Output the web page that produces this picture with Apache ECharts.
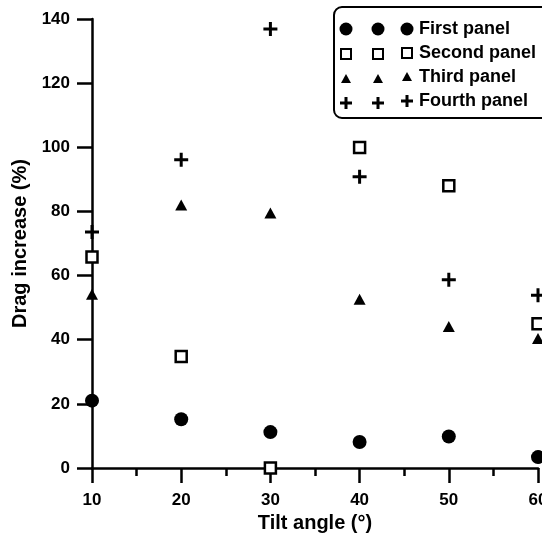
<!DOCTYPE html>
<html>
<head>
<meta charset="utf-8">
<title>Drag increase vs tilt angle</title>
<script src="https://cdn.jsdelivr.net/npm/echarts@6/dist/echarts.min.js"></script>
<style>
  html, body { margin: 0; padding: 0; background: #fff; }
  #chart { width: 542px; height: 537px; }
</style>
</head>
<body>
<div id="chart"></div>
<script>
// data
const tiltAngles = [10, 20, 30, 40, 50, 60];
const seriesNames = ['First panel', 'Second panel', 'Third panel', 'Fourth panel'];
const firstPanel = [21, 15.2, 11.2, 8.1, 9.8, 3.4];
const secondPanel = [65.8, 34.8, 0, 99.9, 88, 45];
const thirdPanel = [54.2, 82, 79.5, 52.6, 44.1, 40.4];
const fourthPanel = [73.6, 96.1, 136.9, 90.8, 58.7, 53.9];
const yTicks = [0, 20, 40, 60, 80, 100, 120, 140];

const FONT = '"Liberation Sans", Arial, sans-serif';
const plusPath = 'path://M5.5,0H8.5V5.5H14V8.5H8.5V14H5.5V8.5H0V5.5H5.5Z';

// legend icons, padded in a 14x14 box so each keeps its own size
const legendIcons = [
  'path://M0,0M0.5,7a6.5,6.5 0 1,0 13,0a6.5,6.5 0 1,0 -13,0M14,14',
  'path://M0,0M2,2H12V12H2ZM14,14',
  'path://M0,0M7,2L12,11H2ZM14,14',
  'path://M0,0M5.5,1H8.5V5.5H13V8.5H8.5V13H5.5V8.5H1V5.5H5.5ZM14,14'
];

const pairs = vals => tiltAngles.map((x, i) => [x, vals[i]]);

// three legends side by side give the three symbol columns of the original
const makeLegend = (left, withText) => {
  const legend = {
    orient: 'vertical',
    left: left,
    top: withText ? 7 : 22,
    itemWidth: 14,
    itemHeight: 14,
    itemGap: withText ? 6 : 10,
    selectedMode: false,
    data: seriesNames.map((name, i) => ({ name, icon: legendIcons[i] })),
    textStyle: { color: '#000', fontFamily: FONT, fontWeight: 'bold', fontSize: 18 }
  };
  if (withText) {
    legend.padding = [13, 14, 8, 65];
    legend.borderColor = '#000';
    legend.borderWidth = 2;
    legend.borderRadius = 8;
    legend.backgroundColor = '#fff';
  } else {
    legend.padding = 0;
    legend.formatter = () => '';
    legend.z = 10;
  }
  return legend;
};

const chart = echarts.init(document.getElementById('chart'), null, { renderer: 'canvas' });

chart.setOption({
  animation: false,
  grid: { left: 92, right: 4, top: 19, bottom: 69, containLabel: false, outerBoundsMode: 'none' },
  legend: [makeLegend(334, true), makeLegend(338, false), makeLegend(370, false)],
  xAxis: {
    type: 'value',
    min: 10,
    max: 60,
    interval: 10,
    name: 'Tilt angle (°)',
    nameLocation: 'middle',
    nameGap: 42,
    nameTextStyle: { color: '#000', fontFamily: FONT, fontWeight: 'bold', fontSize: 20 },
    axisLine: { lineStyle: { color: '#000', width: 2.5 } },
    axisTick: { length: 15, lineStyle: { color: '#000', width: 2.5 } },
    minorTick: { show: true, splitNumber: 2, length: 8, lineStyle: { color: '#000', width: 2.5 } },
    axisLabel: { color: '#000', fontFamily: FONT, fontWeight: 'bold', fontSize: 17, margin: 24 },
    splitLine: { show: false },
    minorSplitLine: { show: false }
  },
  yAxis: {
    type: 'value',
    min: yTicks[0],
    max: yTicks[yTicks.length - 1],
    interval: yTicks[1] - yTicks[0],
    name: 'Drag increase (%)',
    nameLocation: 'middle',
    nameGap: 58,
    nameTextStyle: { color: '#000', fontFamily: FONT, fontWeight: 'bold', fontSize: 20 },
    axisLine: { show: true, lineStyle: { color: '#000', width: 2.5 } },
    axisTick: { show: true, length: 15, lineStyle: { color: '#000', width: 2.5 } },
    axisLabel: { color: '#000', fontFamily: FONT, fontWeight: 'bold', fontSize: 17, margin: 22 },
    splitLine: { show: false }
  },
  series: [
    {
      name: seriesNames[0], type: 'scatter', clip: false,
      symbol: 'circle', symbolSize: 14,
      itemStyle: { color: '#000', opacity: 1 },
      data: pairs(firstPanel)
    },
    {
      name: seriesNames[1], type: 'scatter', clip: false,
      symbol: 'rect', symbolSize: 11,
      itemStyle: { color: '#fff', borderColor: '#000', borderWidth: 2.5, opacity: 1 },
      data: pairs(secondPanel)
    },
    {
      name: seriesNames[2], type: 'scatter', clip: false,
      symbol: 'triangle', symbolSize: [12, 11],
      itemStyle: { color: '#000', opacity: 1 },
      data: pairs(thirdPanel)
    },
    {
      name: seriesNames[3], type: 'scatter', clip: false,
      symbol: plusPath, symbolSize: 14,
      itemStyle: { color: '#000', opacity: 1 },
      data: pairs(fourthPanel)
    }
  ]
});
</script>
</body>
</html>
